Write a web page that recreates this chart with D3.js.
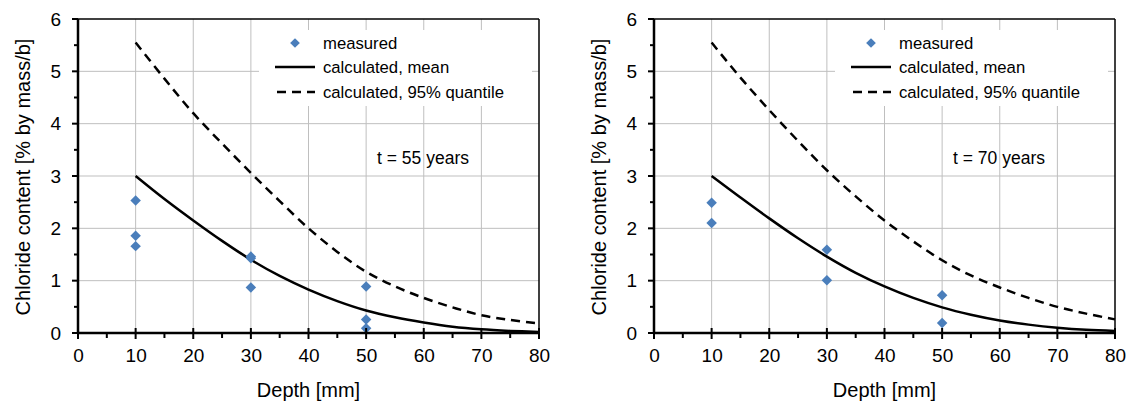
<!DOCTYPE html>
<html><head><meta charset="utf-8">
<script src="https://cdn.jsdelivr.net/npm/d3@7"></script>
<style>
html,body{margin:0;padding:0;background:#fff;}
svg{display:block;font-family:"Liberation Sans",Arial,sans-serif;}
</style></head>
<body><svg id="c" width="1131" height="403"></svg>
<script>
// ---- data ----
const xTicks = [0,10,20,30,40,50,60,70,80];
const yTicks = [0,1,2,3,4,5,6];
const curveDepth = [10,15,20,25,30,35,40,45,50,55,60,65,70,75,80];

const panelTitles = ["t = 55 years","t = 70 years"];

const measDepth55 = [10,10,10,30,30,30,50,50,50];
const measVal55   = [2.53,1.86,1.66,1.46,1.43,0.87,0.89,0.26,0.09];
const mean55 = [3.00,2.56,2.15,1.76,1.40,1.09,0.83,0.61,0.43,0.30,0.20,0.12,0.07,0.04,0.02];
const q95_55 = [5.55,4.86,4.20,3.62,3.06,2.52,2.00,1.55,1.17,0.89,0.67,0.49,0.34,0.25,0.18];

const measDepth70 = [10,10,30,30,50,50];
const measVal70   = [2.49,2.10,1.59,1.01,0.72,0.19];
const mean70 = [3.00,2.59,2.19,1.81,1.46,1.15,0.89,0.67,0.49,0.35,0.24,0.16,0.10,0.06,0.04];
const q95_70 = [5.55,4.88,4.26,3.67,3.11,2.61,2.15,1.75,1.39,1.10,0.87,0.67,0.50,0.37,0.26];

const legendLabels = ["measured","calculated, mean","calculated, 95% quantile"];
const xTitle = "Depth [mm]";
const yTitle = "Chloride content [% by mass/b]";

// ---- drawing ----
const svg = d3.select("#c");
const panels = [
  {x0:78, md:measDepth55, mv:measVal55, mean:mean55, q:q95_55, title:panelTitles[0]},
  {x0:654, md:measDepth70, mv:measVal70, mean:mean70, q:q95_70, title:panelTitles[1]}
];
const W = 461, pTop = 19, pBot = 333;
const blue = "#4a7ebb";

panels.forEach(p => {
  const x = d3.scaleLinear().domain([0,80]).range([p.x0, p.x0+W]);
  const y = d3.scaleLinear().domain([0,6]).range([pBot, pTop]);
  const g = svg.append("g");

  // grid
  g.selectAll(".gx").data(xTicks.slice(1,-1)).join("line")
    .attr("x1",d=>x(d)).attr("x2",d=>x(d)).attr("y1",pTop).attr("y2",pBot)
    .attr("stroke","#bfbfbf").attr("stroke-width",1);
  g.selectAll(".gy").data(yTicks.slice(1,-1)).join("line")
    .attr("x1",p.x0).attr("x2",p.x0+W).attr("y1",d=>y(d)).attr("y2",d=>y(d))
    .attr("stroke","#bfbfbf").attr("stroke-width",1);

  // border top/right
  g.append("line").attr("x1",p.x0).attr("x2",p.x0+W).attr("y1",pTop).attr("y2",pTop).attr("stroke","#000").attr("stroke-width",1.5);
  g.append("line").attr("x1",p.x0+W).attr("x2",p.x0+W).attr("y1",pTop).attr("y2",pBot).attr("stroke","#000").attr("stroke-width",1.5);

  // legend box (white, covers grid)
  const lx = p.x0 + 181;
  g.append("rect").attr("x",lx).attr("y",30).attr("width",273).attr("height",76).attr("fill","#fff");

  // curves
  const line = d3.line().x((d,i)=>x(curveDepth[i])).y(d=>y(d)).curve(d3.curveCatmullRom.alpha(0.5));
  g.append("path").attr("d",line(p.mean)).attr("fill","none").attr("stroke","#000").attr("stroke-width",2.5);
  g.append("path").attr("d",line(p.q)).attr("fill","none").attr("stroke","#000").attr("stroke-width",2.5).attr("stroke-dasharray","9,6");

  // markers
  const sym = d3.symbol().type(d3.symbolDiamond2).size(70);
  g.selectAll(".m").data(p.mv).join("path")
    .attr("d",sym).attr("fill",blue)
    .attr("transform",(d,i)=>`translate(${x(p.md[i])},${y(d)})`);

  // axes
  const xa = g.append("g").attr("transform",`translate(0,${pBot})`)
    .call(d3.axisBottom(x).tickValues(xTicks).tickSize(0).tickPadding(16).tickFormat(d3.format("d")));
  xa.select(".domain").remove();
  xa.selectAll("text").attr("font-size",19).attr("fill","#000").attr("font-family","Liberation Sans, Arial, sans-serif");
  const ya = g.append("g").attr("transform",`translate(${p.x0},0)`)
    .call(d3.axisLeft(y).tickValues(yTicks).tickSize(0).tickPadding(17).tickFormat(d3.format("d")));
  ya.select(".domain").remove();
  ya.selectAll("text").attr("font-size",19).attr("fill","#000").attr("font-family","Liberation Sans, Arial, sans-serif");

  // tick marks
  const xMinor = d3.range(5,80,10);
  g.selectAll(".tx").data(xTicks).join("line")
    .attr("x1",d=>x(d)).attr("x2",d=>x(d)).attr("y1",pBot-5).attr("y2",pBot+6)
    .attr("stroke","#000").attr("stroke-width",2);
  g.selectAll(".txm").data(xMinor).join("line")
    .attr("x1",d=>x(d)).attr("x2",d=>x(d)).attr("y1",pBot).attr("y2",pBot+5)
    .attr("stroke","#000").attr("stroke-width",2);
  const yMinor = d3.range(0.5,6,1);
  g.selectAll(".ty").data(yTicks).join("line")
    .attr("x1",p.x0-6).attr("x2",p.x0).attr("y1",d=>y(d)).attr("y2",d=>y(d))
    .attr("stroke","#000").attr("stroke-width",2);
  g.selectAll(".tym").data(yMinor).join("line")
    .attr("x1",p.x0-4).attr("x2",p.x0).attr("y1",d=>y(d)).attr("y2",d=>y(d))
    .attr("stroke","#000").attr("stroke-width",2);

  // axis lines
  g.append("line").attr("x1",p.x0).attr("x2",p.x0).attr("y1",pTop).attr("y2",pBot+1).attr("stroke","#000").attr("stroke-width",2.5);
  g.append("line").attr("x1",p.x0-1).attr("x2",p.x0+W).attr("y1",pBot).attr("y2",pBot).attr("stroke","#000").attr("stroke-width",2.5);

  // titles
  g.append("text").attr("x",p.x0+W/2).attr("y",397).attr("text-anchor","middle")
    .attr("font-size",20).text(xTitle);
  g.append("text").attr("transform",`translate(${p.x0-55},${(pTop+pBot)/2+1}) rotate(-90)`)
    .attr("text-anchor","middle").attr("dominant-baseline","central")
    .attr("font-size",20).text(yTitle);

  // legend
  const ly = [43,67,92];
  g.append("path").attr("d",d3.symbol().type(d3.symbolDiamond2).size(60))
    .attr("fill",blue).attr("transform",`translate(${lx+36},${ly[0]})`);
  g.append("line").attr("x1",lx+16).attr("x2",lx+56).attr("y1",ly[1]).attr("y2",ly[1]).attr("stroke","#000").attr("stroke-width",2.5);
  g.append("line").attr("x1",lx+16).attr("x2",lx+56).attr("y1",ly[2]).attr("y2",ly[2]).attr("stroke","#000").attr("stroke-width",2.5).attr("stroke-dasharray","9,6").attr("stroke-dashoffset",-2);
  g.selectAll(".lt").data(legendLabels).join("text")
    .attr("x",lx+64).attr("y",(d,i)=>ly[i]).attr("dominant-baseline","central")
    .attr("font-size",16.7).text(d=>d);

  // panel annotation
  g.append("text").attr("x",p.x0+345).attr("y",158).attr("dominant-baseline","central")
    .attr("text-anchor","middle").attr("font-size",17.5).text(p.title);
});
</script></body></html>
